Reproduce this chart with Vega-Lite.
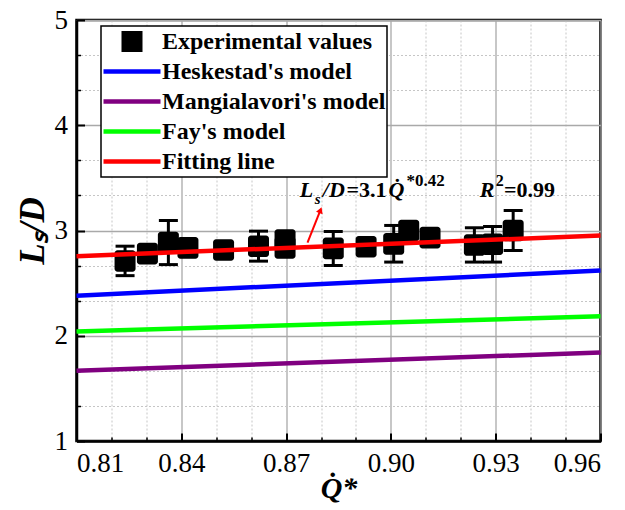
{
  "$schema": "https://vega.github.io/schema/vega-lite/v6.json",
  "width": 524,
  "height": 421,
  "autosize": {"type": "none"},
  "padding": {"left": 76.5, "top": 20, "right": 24.5, "bottom": 69},
  "background": "white",
  "config": {
    "font": "Liberation Serif",
    "view": {"stroke": "black", "strokeWidth": 2.5},
    "axis": {
      "labelFont": "Liberation Serif",
      "labelFontSize": 27,
      "labelColor": "black",
      "domainColor": "black",
      "domainWidth": 2.5,
      "tickColor": "black",
      "tickWidth": 2,
      "titleFont": "Liberation Serif",
      "titleFontStyle": "italic",
      "titleFontWeight": "bold",
      "titleColor": "black"
    },
    "legend": {
      "orient": "none",
      "legendX": 24.5,
      "legendY": 6,
      "padding": 1,
      "strokeColor": "black",
      "strokeWidth": 1.5,
      "fillColor": "white",
      "labelFont": "Liberation Serif",
      "labelFontSize": 24,
      "labelFontWeight": "bold",
      "labelColor": "black",
      "labelBaseline": "middle",
      "labelOffset": 0,
      "labelLimit": 400,
      "symbolSize": 3600,
      "clipHeight": 29,
      "rowPadding": 1
    }
  },
  "datasets": {
    "exp": [
      {"series": "Experimental values", "q": 0.8239, "ls": 2.71, "lo": 2.571, "hi": 2.851},
      {"series": "Experimental values", "q": 0.8303, "ls": 2.78},
      {"series": "Experimental values", "q": 0.8363, "ls": 2.885, "lo": 2.676, "hi": 3.095},
      {"series": "Experimental values", "q": 0.8419, "ls": 2.835},
      {"series": "Experimental values", "q": 0.8521, "ls": 2.815},
      {"series": "Experimental values", "q": 0.8621, "ls": 2.851, "lo": 2.709, "hi": 2.994},
      {"series": "Experimental values", "q": 0.8697, "ls": 2.91},
      {"series": "Experimental values", "q": 0.8697, "ls": 2.835},
      {"series": "Experimental values", "q": 0.8835, "ls": 2.83, "lo": 2.667, "hi": 2.99},
      {"series": "Experimental values", "q": 0.8929, "ls": 2.845},
      {"series": "Experimental values", "q": 0.9008, "ls": 2.873, "lo": 2.70, "hi": 3.048},
      {"series": "Experimental values", "q": 0.9051, "ls": 3.0},
      {"series": "Experimental values", "q": 0.9112, "ls": 2.932},
      {"series": "Experimental values", "q": 0.9239, "ls": 2.862, "lo": 2.70, "hi": 3.026},
      {"series": "Experimental values", "q": 0.9291, "ls": 2.869, "lo": 2.70, "hi": 3.038},
      {"series": "Experimental values", "q": 0.935, "ls": 3.0, "lo": 2.81, "hi": 3.19}
    ],
    "models": [
      {"series": "Heskestad's model", "q": 0.81, "ls": 2.381},
      {"series": "Heskestad's model", "q": 0.96, "ls": 2.619},
      {"series": "Mangialavori's model", "q": 0.81, "ls": 1.667},
      {"series": "Mangialavori's model", "q": 0.96, "ls": 1.842},
      {"series": "Fay's model", "q": 0.81, "ls": 2.04},
      {"series": "Fay's model", "q": 0.96, "ls": 2.185},
      {"series": "Fitting line", "q": 0.81, "ls": 2.756},
      {"series": "Fitting line", "q": 0.96, "ls": 2.952}
    ],
    "one": [{}]
  },
  "resolve": {"axis": {"x": "independent", "y": "independent"}},
  "layer": [
    {
      "data": {"name": "exp"},
      "mark": {"type": "rule", "color": "black", "strokeWidth": 3},
      "encoding": {
        "x": {
          "field": "q", "type": "quantitative",
          "scale": {"domain": [0.81, 0.96], "nice": false, "zero": false},
          "axis": {
            "orient": "bottom",
            "values": [0.82, 0.83, 0.85, 0.86, 0.88, 0.89, 0.91, 0.92, 0.94, 0.95],
            "labels": false, "domain": false, "tickSize": -4, "tickWidth": 1.5,
            "grid": true, "gridColor": "#c6c6c6", "gridDash": [2, 2], "gridWidth": 1,
            "title": null
          }
        },
        "y": {
          "field": "lo", "type": "quantitative",
          "scale": {"domain": [1, 5], "nice": false, "zero": false},
          "axis": {
            "orient": "left",
            "values": [1.3333, 1.6667, 2.3333, 2.6667, 3.3333, 3.6667, 4.3333, 4.6667],
            "labels": false, "domain": false, "tickSize": -4, "tickWidth": 1.5,
            "grid": true, "gridColor": "#c6c6c6", "gridDash": [2, 2], "gridWidth": 1,
            "title": null
          }
        },
        "y2": {"field": "hi"}
      }
    },
    {
      "data": {"name": "exp"},
      "mark": {"type": "tick", "orient": "horizontal", "color": "black", "thickness": 3, "size": 19, "opacity": 1},
      "encoding": {
        "x": {"field": "q", "type": "quantitative", "axis": null},
        "y": {"field": "lo", "type": "quantitative", "axis": null}
      }
    },
    {
      "data": {"name": "exp"},
      "mark": {"type": "tick", "orient": "horizontal", "color": "black", "thickness": 3, "size": 19, "opacity": 1},
      "encoding": {
        "x": {"field": "q", "type": "quantitative", "axis": null},
        "y": {"field": "hi", "type": "quantitative", "axis": null}
      }
    },
    {
      "data": {"name": "exp"},
      "mark": {
        "type": "point", "filled": true, "color": "black", "opacity": 1, "size": 3600,
        "shape": "M-0.25,-0.36H0.25A0.1,0.1 0 0 1 0.35,-0.26V0.26A0.1,0.1 0 0 1 0.25,0.36H-0.25A0.1,0.1 0 0 1 -0.35,0.26V-0.26A0.1,0.1 0 0 1 -0.25,-0.36Z"
      },
      "encoding": {
        "x": {
          "field": "q", "type": "quantitative",
          "axis": {
            "orient": "bottom",
            "values": [0.81, 0.84, 0.87, 0.9, 0.93, 0.96],
            "format": ".2f", "tickSize": -8, "labelPadding": 17,
            "labelFont": "Liberation Serif", "labelFontSize": 27,
            "grid": true, "gridColor": "#a9a9a9", "gridWidth": 1.3,
            "title": "Q̇*", "titleFontSize": 30, "titlePadding": -3
          }
        },
        "y": {
          "field": "ls", "type": "quantitative",
          "axis": {
            "orient": "left",
            "values": [1, 2, 3, 4, 5],
            "format": "d", "tickSize": -8, "labelPadding": 17,
            "labelFont": "Liberation Serif", "labelFontSize": 27,
            "grid": true, "gridColor": "#a9a9a9", "gridWidth": 1.3,
            "title": "Lₛ/D", "titleFontSize": 35, "titlePadding": 4
          }
        }
      }
    },
    {
      "data": {"name": "models"},
      "mark": {"type": "line", "strokeWidth": 4.5},
      "encoding": {
        "x": {"field": "q", "type": "quantitative", "axis": null},
        "y": {"field": "ls", "type": "quantitative", "axis": null},
        "color": {
          "field": "series", "type": "nominal",
          "scale": {
            "domain": ["Experimental values", "Heskestad's model", "Mangialavori's model", "Fay's model", "Fitting line"],
            "range": ["#000000", "#0000ff", "#800080", "#00ff00", "#ff0000"]
          },
          "legend": {
            "title": null,
            "encode": {
              "symbols": {
                "update": {
                  "shape": {"signal": "datum.value === 'Experimental values' ? 'M-0.35,-0.35H0.35V0.35H-0.35Z' : 'M-0.95,-0.075H0.95V0.075H-0.95Z'"},
                  "fill": {"scale": "color", "field": "value"},
                  "stroke": {"value": "transparent"},
                  "strokeWidth": {"value": 0},
                  "size": {"value": 3600},
                  "opacity": {"value": 1}
                }
              }
            }
          }
        }
      }
    },
    {
      "data": {"name": "one"},
      "mark": {"type": "rule", "color": "#ff0000", "strokeWidth": 2},
      "encoding": {
        "x": {"datum": 0.87613, "axis": null}, "y": {"datum": 2.884, "axis": null},
        "x2": {"datum": 0.87983}, "y2": {"datum": 3.1938}
      }
    },
    {
      "data": {"name": "one"},
      "mark": {"type": "point", "shape": "triangle-up", "filled": true, "color": "#ff0000", "opacity": 1, "size": 50, "angle": 21.6},
      "encoding": {"x": {"datum": 0.87983, "axis": null}, "y": {"datum": 3.1938, "axis": null}}
    },
    {
      "data": {"name": "one"},
      "mark": {"type": "text", "text": "L", "align": "left", "baseline": "alphabetic", "fontSize": 22, "fontWeight": "bold", "fontStyle": "italic", "color": "black"},
      "encoding": {"x": {"datum": 0.87393, "axis": null}, "y": {"datum": 3.3154, "axis": null}}
    },
    {
      "data": {"name": "one"},
      "mark": {"type": "text", "text": "s", "align": "left", "baseline": "alphabetic", "fontSize": 15, "fontWeight": "bold", "fontStyle": "italic", "color": "black"},
      "encoding": {"x": {"datum": 0.87822, "axis": null}, "y": {"datum": 3.2518, "axis": null}}
    },
    {
      "data": {"name": "one"},
      "mark": {"type": "text", "text": "/D", "align": "left", "baseline": "alphabetic", "fontSize": 22, "fontWeight": "bold", "fontStyle": "italic", "color": "black"},
      "encoding": {"x": {"datum": 0.88051, "axis": null}, "y": {"datum": 3.3154, "axis": null}}
    },
    {
      "data": {"name": "one"},
      "mark": {"type": "text", "text": "=3.1", "align": "left", "baseline": "alphabetic", "fontSize": 22, "fontWeight": "bold", "color": "black"},
      "encoding": {"x": {"datum": 0.8873, "axis": null}, "y": {"datum": 3.3154, "axis": null}}
    },
    {
      "data": {"name": "one"},
      "mark": {"type": "text", "text": "Q̇", "align": "left", "baseline": "alphabetic", "fontSize": 22, "fontWeight": "bold", "fontStyle": "italic", "color": "black"},
      "encoding": {"x": {"datum": 0.8993, "axis": null}, "y": {"datum": 3.3154, "axis": null}}
    },
    {
      "data": {"name": "one"},
      "mark": {"type": "text", "text": "*0.42", "align": "left", "baseline": "alphabetic", "fontSize": 17, "fontWeight": "bold", "color": "black"},
      "encoding": {"x": {"datum": 0.9045, "axis": null}, "y": {"datum": 3.4228, "axis": null}}
    },
    {
      "data": {"name": "one"},
      "mark": {"type": "text", "text": "R", "align": "left", "baseline": "alphabetic", "fontSize": 22, "fontWeight": "bold", "fontStyle": "italic", "color": "black"},
      "encoding": {"x": {"datum": 0.92546, "axis": null}, "y": {"datum": 3.3154, "axis": null}}
    },
    {
      "data": {"name": "one"},
      "mark": {"type": "text", "text": "2", "align": "left", "baseline": "alphabetic", "fontSize": 16, "fontWeight": "bold", "color": "black"},
      "encoding": {"x": {"datum": 0.9300, "axis": null}, "y": {"datum": 3.4228, "axis": null}}
    },
    {
      "data": {"name": "one"},
      "mark": {"type": "text", "text": "=0.99", "align": "left", "baseline": "alphabetic", "fontSize": 22, "fontWeight": "bold", "color": "black"},
      "encoding": {"x": {"datum": 0.9324, "axis": null}, "y": {"datum": 3.3154, "axis": null}}
    }
  ]
}
